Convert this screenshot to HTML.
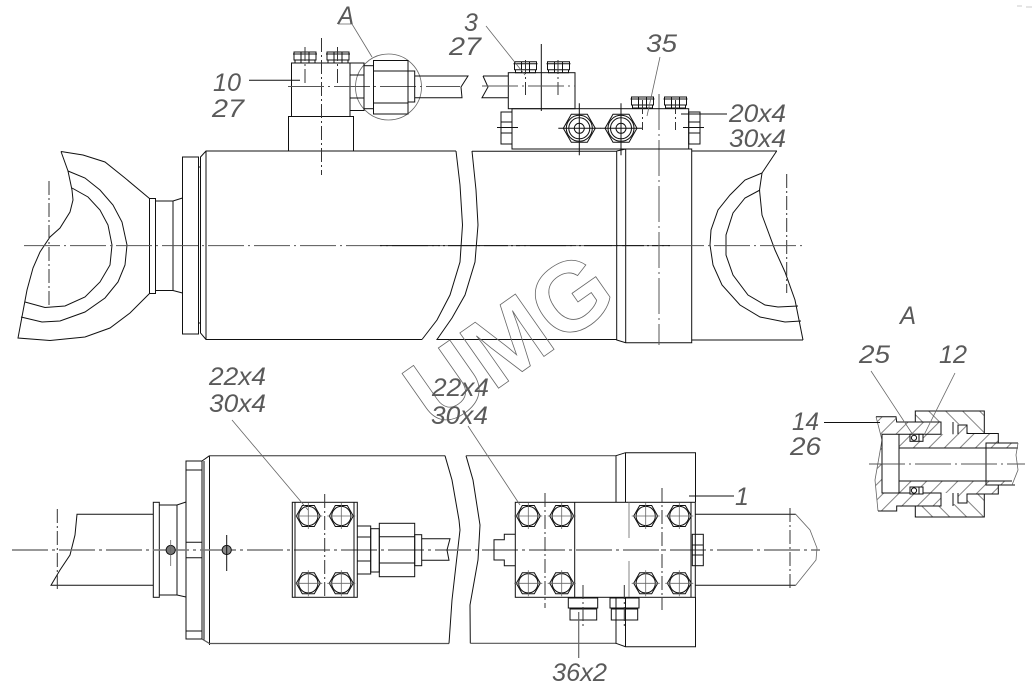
<!DOCTYPE html>
<html><head><meta charset="utf-8"><style>
html,body{margin:0;padding:0;background:#fff}
svg{display:block}
text{font-family:"Liberation Sans",sans-serif;font-style:italic;font-size:25px;fill:#5a5a5a}
.k{fill:none;stroke:#111;stroke-width:1}
.g{fill:none;stroke:#666;stroke-width:.8}
.c{fill:none;stroke:#555;stroke-width:1;stroke-dasharray:36 4 2 4}
.c2{fill:none;stroke:#777;stroke-width:1.6;stroke-dasharray:36 4 3 4}
.d{fill:none;stroke:#333;stroke-width:1;stroke-dasharray:14 3 2 3}
</style></head><body>
<svg width="1033" height="693" viewBox="0 0 1033 693" xmlns="http://www.w3.org/2000/svg">
<defs>
<pattern id="h1" width="11" height="11" patternUnits="userSpaceOnUse" patternTransform="rotate(45)"><line x1="5.5" y1="0" x2="5.5" y2="11" stroke="#666" stroke-width=".8"/></pattern>
<pattern id="h2" width="12" height="12" patternUnits="userSpaceOnUse" patternTransform="rotate(-45)"><line x1="6" y1="0" x2="6" y2="12" stroke="#666" stroke-width=".8"/></pattern>
<g id="hb"><polygon class="k" points="-12,0 -6,-10.5 6,-10.5 12,0 6,10.5 -6,10.5"/><circle class="k" r="9.6"/><path class="g" d="M-14,0H14M0,-13V13"/></g>
<g id="nut"><polygon class="k" points="-16,0 -8,-14 8,-14 16,0 8,14 -8,14"/><circle class="k" r="13"/><circle class="k" r="10.5"/><circle class="k" r="5"/><path class="k" d="M-21,0H21M0,-25V27"/></g>
<g id="bolt"><path class="k" d="M1,0H23V8H1ZM0,2H24M2,8H22V11H2ZM8,0V11M16,0V11"/></g>
</defs>

<!-- TOP VIEW -->
<polyline class="k" points="456,151 206,151 200.5,157 200.5,333 206,339.5 422,339.5"/>
<path class="k" d="M206,151V339.5M198.5,167H200.5M198.5,323H200.5"/>
<polyline class="k" points="456,151 460,185 462.5,225 460,262 450,295 437,320 422,339.5"/>
<polyline class="k" points="472,151 476,190 478,225 475,262 465,295 452,318 437,339.5 616.7,339.5"/>
<path class="k" d="M472,151.3H616.7V340L625.7,342.7H691.7V149H625.7L616.7,151M625.7,149V342.7M691.7,151H777M691.7,340H803"/>
<rect class="k" x="182.5" y="157" width="16" height="177"/>
<rect class="k" x="149.5" y="198.5" width="6" height="95"/>
<path class="k" d="M155.5,201H173L182.5,198M155.5,290.5H173L182.5,293M173,201V290.5"/>
<polyline class="k" points="61,151.5 83,155 105,162 125,178 149.5,198.5"/>
<polyline class="k" points="61,151.5 68,171 72,190 73,200 70,212 60,228 50,237 40,252 33,268 27,290 18,338 50,340.5 85,337 110,328 130,313 149.5,293.5"/>
<polyline class="k" points="68,171 85,178 100,190 113,205 122,222 127,245 125,265 118,282 105,298 85,312 60,321 42,322 21,317"/>
<polyline class="k" points="72,188 88,197 100,210 108,225 112,245 110,265 100,282 85,297 65,306 45,307.5 25,302"/>
<path class="d" d="M49,181V306"/>
<polyline class="k" points="776.7,151 762,173 759.5,190 762,215 775,250 785,272 795,300 803,340"/>
<polyline class="k" points="762,173 745,180 730,195 718,210 711,230 710,245 713,265 722,285 740,305 760,317 785,322 801,321"/>
<polyline class="k" points="760,190 745,198 733,213 726,235 726,255 733,275 748,295 765,305 778,307 798,306"/>
<path class="d" d="M786.7,174V293"/>
<path class="c" d="M24,245.6H805"/>
<path class="k" d="M380,245.6H670" stroke-dasharray="60 3 2 3"/>
<path class="c" d="M659,94V345"/>

<!-- block 10 -->
<rect class="k" x="291.5" y="63" width="58.5" height="53.5"/>
<rect class="k" x="288.5" y="116.5" width="65" height="34.5"/>
<use href="#bolt" x="293" y="52"/><use href="#bolt" x="326" y="52"/>
<path class="d" d="M305,47V83M337.5,47V83"/>
<path class="d" d="M321.5,38V175"/>
<path class="c" d="M288,86.5H460" stroke-dasharray="30 3 2 3"/>
<circle class="g" cx="388.5" cy="87" r="33"/>
<path class="k" d="M350,63H364V110.5H350M350,75H364M350,98H364"/>
<rect class="k" x="364" y="65.7" width="9.5" height="43"/>
<rect class="k" x="373.5" y="60.5" width="34.5" height="53.5"/>
<path class="k" d="M373.5,71H408M373.5,103H408"/>
<rect class="k" x="408" y="71" width="6.7" height="31"/>
<path class="k" d="M414.7,76H468L461,87L462,97.7H414.7"/>
<path class="k" d="M483,76L488,87L482,97.7H508.3M483,76H508.3"/>

<!-- block 3 -->
<rect class="k" x="508.3" y="72.7" width="66.7" height="36"/>
<use href="#bolt" x="513.5" y="61.7"/><use href="#bolt" x="546.5" y="61.7"/>
<path class="k" d="M541.3,44V111"/>
<path class="d" d="M525.5,60V95M558,60V95"/>
<path class="c" d="M482,86H575" stroke-dasharray="20 3 2 3"/>

<!-- main block -->
<rect class="k" x="512" y="108.7" width="176.7" height="40.3"/>
<path class="k" d="M501,112H512V144H501ZM501,122H512M501,133H512M497,127.5H518"/>
<path class="k" d="M688.7,112H700V144H688.7ZM688.7,122H700M688.7,133H700M683,127.5H704"/>
<use href="#bolt" x="630.5" y="97"/><use href="#bolt" x="663.5" y="97"/>
<path class="d" d="M642.5,100V130M675.5,100V130"/>
<use href="#nut" x="579.3" y="128.3"/><use href="#nut" x="621" y="128.3"/>

<!-- UMG watermark -->
<text x="0" y="0" transform="translate(436,432) rotate(-35)" textLength="226" lengthAdjust="spacingAndGlyphs" style="font-family:'Liberation Sans',sans-serif;font-style:normal;font-weight:bold;font-size:98px;fill:none;stroke:#666;stroke-width:.8">UMG</text>

<!-- SECTION A -->
<polygon fill="url(#h1)" stroke="none" points="876,416.7 896,416.7 896.7,422 941,422 941,434.3 882,434.3 882,493 941,493 941,506 896.7,506.7 896.7,511 878,511 875,480 882,440"/>
<polygon fill="url(#h1)" stroke="none" points="899,448 899,434.3 958,434.3 958,425 967,425 967,433.5 998.3,433.5 998.3,443 986,443 986,448"/>
<polygon fill="url(#h1)" stroke="none" points="899,481 899,493 958,493 958,503 967,503 967,494 998.3,494 998.3,485 986,485 986,481"/>
<polygon fill="url(#h2)" stroke="none" points="915.3,411 984.3,411 984.3,433.5 967.3,433.5 967.3,424 943,424 941,422 915.3,422"/>
<polygon fill="url(#h2)" stroke="none" points="915.3,517 984.3,517 984.3,494 967.3,494 967.3,504 943,504 941,506 915.3,506"/>
<polygon fill="url(#h1)" stroke="none" points="986,443 1018,443 1018,448 986,448"/>
<polygon fill="url(#h1)" stroke="none" points="986,481 1014,481 1015,485 986,485"/>
<polyline class="g" points="876,416.7 882,440 875,480 878,511"/>
<path class="k" d="M876,416.7H896L896.7,422H941V434.3H882V493H941V506H896.7V511H878"/>
<path class="k" d="M899,434.3V493M899,448H986M899,481H986"/>
<path class="k" d="M953,422V434.3M958,434.3V425H967V433.5H998.3V443H986V485H998.3V494H967V503H958V493M953,506V493"/>
<path class="k" d="M915.3,422V411H984.3V433.5H967M915.3,506V517H984.3V494H967"/>
<path class="k" d="M986,443H1018M986,448H1018M986,481H1012M986,485H1015"/>
<polyline class="g" points="1018,443 1016,455 1018,470 1012,485"/>
<rect x="910" y="434.3" width="13" height="7" fill="#fff" stroke="#111"/>
<circle class="k" cx="914" cy="437.8" r="2.6"/><path class="k" d="M919,434.3V441"/>
<rect x="910" y="487" width="13" height="7" fill="#fff" stroke="#111"/>
<circle class="k" cx="914" cy="490.5" r="2.6"/><path class="k" d="M919,487V494"/>
<path class="c" d="M869,464H1025" stroke-dasharray="40 3 2 3"/>
<path class="k" d="M824,422.5H880"/>
<path class="g" d="M871,371L913,435M955,373L924,435"/>

<!-- LOWER VIEW -->
<path class="k" d="M153.5,514.3H77L75,535L70,555L60,570L51,585.3H153.5"/>
<path class="d" d="M57.3,509V591"/>
<rect class="k" x="153.3" y="502.3" width="6" height="95"/>
<path class="k" d="M159.3,505H177L186,502M159.3,595H177L186,597M177,505V595"/>
<rect class="k" x="186" y="461" width="16" height="178"/>
<path class="k" d="M186,470H202M186,631H202M186,542.3H202M186,557.7H202M186,502V597" />
<path class="k" d="M202,461L209.5,455.7M204,461V640M209.5,455.7V645" stroke-width="1"/>
<path class="k" d="M209.5,455.7H445" stroke="#555" style="stroke-width:1.4;stroke:#666"/>
<path class="k" d="M202,639L209.5,643.5H449" style="stroke-width:1.2;stroke:#555"/>
<polyline class="k" points="445,455.7 452,480 459,520 460,530 452,600 449,643.5"/>
<polyline class="k" points="466,455.7 473,480 480,525 478,560 470,605 470.3,643.3"/>
<path class="k" d="M466,455.7H616M470.3,643.3H616" style="stroke-width:1.2;stroke:#555"/>
<path class="k" d="M616,455.7L625.5,452.7H695.5V502M616,455.7V502M625.5,452.7V502M616,597V643.3L625.5,646.7H695.5V597M625.5,597V646.7"/>
<path class="c2" d="M12,550H820"/>
<circle cx="170.7" cy="550" r="4.6" fill="#777" stroke="#111"/>
<circle cx="226.7" cy="550" r="4.6" fill="#888" stroke="#111"/>
<path class="g" d="M170.7,540V566"/><path class="k" d="M226.7,535V571"/>

<rect class="k" x="292.3" y="502.3" width="65" height="95"/>
<path class="k" d="M295,502.3V597.3M354,502.3V597.3"/>
<path class="d" d="M324.7,494V598"/>
<use href="#hb" x="308.3" y="516"/><use href="#hb" x="341.3" y="516"/><use href="#hb" x="308.3" y="583.3"/><use href="#hb" x="341.3" y="583.3"/>
<path class="k" d="M357.3,526H370.7V574H357.3M357.3,537H370.7M357.3,561H370.7"/>
<rect class="k" x="370.7" y="528.7" width="8.6" height="43.3"/>
<rect class="k" x="379.3" y="523.3" width="35.4" height="53.4"/>
<path class="k" d="M379.3,536.7H414.7M379.3,563H414.7"/>
<rect class="k" x="414.7" y="534.7" width="7" height="31"/>
<path class="k" d="M421.7,538.7H450L447,550L449,560.3H421.7"/>

<rect class="k" x="515.3" y="502.3" width="180" height="95"/>
<path class="k" d="M574.7,502.3V597.3M691,502.3V597.3"/>
<path class="g" d="M629,502V538M629,561V597"/>
<path class="d" d="M545,493V608M662,488V610"/>
<use href="#hb" x="528.3" y="516"/><use href="#hb" x="561.7" y="516"/><use href="#hb" x="645.7" y="516"/><use href="#hb" x="679.3" y="516"/>
<use href="#hb" x="528.3" y="583.3"/><use href="#hb" x="561.7" y="583.3"/><use href="#hb" x="645.7" y="583.3"/><use href="#hb" x="679.3" y="583.3"/>
<polyline class="k" points="515.3,534.3 504.3,534.3 504.3,539.7 494,539.7 494,560 504.3,560 504.3,565.7 515.3,565.7"/>
<rect class="k" x="692.3" y="534.3" width="11" height="31.4"/>
<path class="k" d="M692.3,545H703.3M692.3,555H703.3"/>
<path class="k" d="M695.5,514.3H795.7M695.5,585.3H795.7"/>
<polyline class="g" points="795.7,514.3 810,530 817,548 816,560 795.7,585.3"/>
<path class="d" d="M790,508V590"/>
<path class="k" d="M568.3,598H597.7V608H568.3ZM570,609H596.7V620H570ZM610,598H639V608H610ZM611.3,609H637.7V620H611.3Z"/>
<path class="d" d="M583,585V628M624.3,585V628"/>
<path class="g" d="M578.7,612V658" style="stroke-width:1.2"/>

<!-- leaders -->
<path class="k" d="M249,80.3H300"/>
<path class="g" d="M338,24H352L372,57M486,26L525,75M660,57L647,116M232,420L308,510M468,426L520,505"/>
<path class="k" d="M727,114H681M689,496H734"/>
<path class="g" d="M1017,6H1022M1026,7H1032" style="stroke:#bbb"/>

<!-- labels -->
<text x="338" y="24" textLength="16" lengthAdjust="spacingAndGlyphs">A</text>
<text x="213" y="91" textLength="28" lengthAdjust="spacingAndGlyphs">10</text>
<text x="212" y="117" textLength="32" lengthAdjust="spacingAndGlyphs">27</text>
<text x="464" y="31">3</text>
<text x="449" y="55" textLength="32" lengthAdjust="spacingAndGlyphs">27</text>
<text x="646" y="52" textLength="31" lengthAdjust="spacingAndGlyphs">35</text>
<text x="729" y="122" textLength="57" lengthAdjust="spacingAndGlyphs">20x4</text>
<text x="729" y="147" textLength="57" lengthAdjust="spacingAndGlyphs">30x4</text>
<text x="900" y="324" textLength="16" lengthAdjust="spacingAndGlyphs">A</text>
<text x="859" y="363" textLength="31" lengthAdjust="spacingAndGlyphs">25</text>
<text x="939" y="363" textLength="28" lengthAdjust="spacingAndGlyphs">12</text>
<text x="792" y="430" textLength="27" lengthAdjust="spacingAndGlyphs">14</text>
<text x="790" y="455" textLength="31" lengthAdjust="spacingAndGlyphs">26</text>
<text x="209" y="385" textLength="57" lengthAdjust="spacingAndGlyphs">22x4</text>
<text x="209" y="412" textLength="57" lengthAdjust="spacingAndGlyphs">30x4</text>
<text x="432" y="396" textLength="57" lengthAdjust="spacingAndGlyphs">22x4</text>
<text x="431" y="424" textLength="57" lengthAdjust="spacingAndGlyphs">30x4</text>
<text x="735" y="505">1</text>
<text x="552" y="681" textLength="55" lengthAdjust="spacingAndGlyphs">36x2</text>
</svg>
</body></html>
